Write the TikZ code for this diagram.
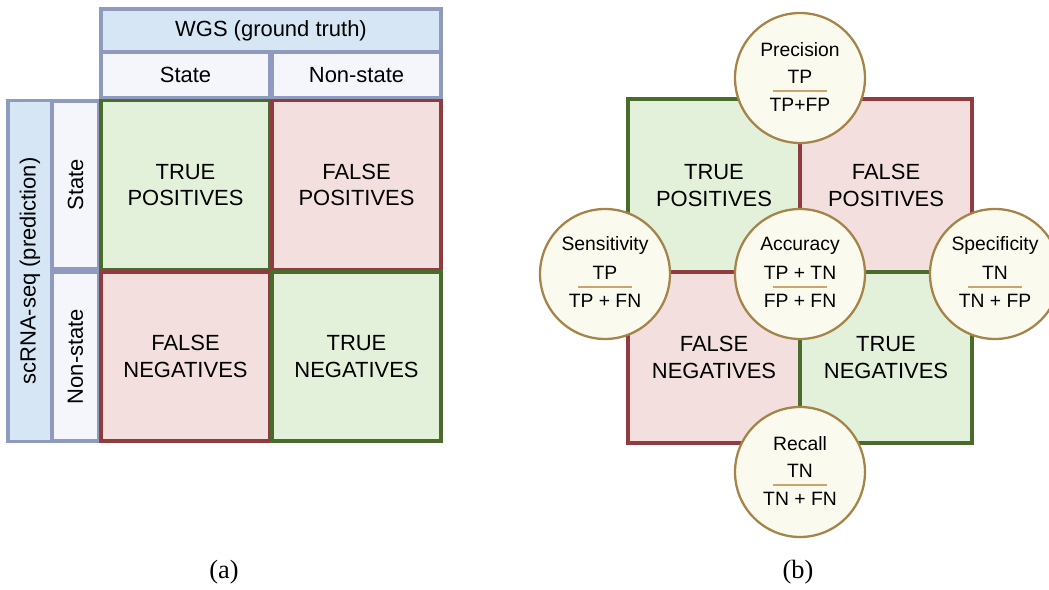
\documentclass[tikz,border=0pt]{standalone}
\usepackage{fontspec}
\setmainfont{Liberation Sans}
\newfontfamily\capfont{Liberation Serif}
\definecolor{hdrfill}{HTML}{D6E6F4}
\definecolor{subfill}{HTML}{F4F6FB}
\definecolor{hdrline}{HTML}{8E9BBE}
\definecolor{goodfill}{HTML}{E3F0DA}
\definecolor{goodline}{HTML}{4B6B2C}
\definecolor{badfill}{HTML}{F2DFDE}
\definecolor{badline}{HTML}{8F3B40}
\definecolor{metfill}{HTML}{FBFAEE}
\definecolor{metline}{HTML}{A5844A}
\definecolor{fracline}{HTML}{CBA66C}

\begin{document}
\begin{tikzpicture}[x=0.02cm, y=-0.02cm,
    hdr/.style = {draw=hdrline, fill=hdrfill, line width=2pt, inner sep=0pt, font=\fontsize{12.5}{15}\selectfont},
    sub/.style = {hdr, fill=subfill},
    good/.style = {draw=goodline, fill=goodfill, line width=2pt, minimum width=3.38cm, minimum height=3.38cm,
                   align=center, font=\fontsize{12.5}{15}\selectfont},
    bad/.style = {good, draw=badline, fill=badfill},
    metric/.style = {circle, draw=metline, fill=metfill, line width=1.3pt, minimum size=2.6cm, inner sep=0pt},
    mtext/.style = {font=\fontsize{11}{13}\selectfont, inner sep=0pt},
    frac/.style = {draw=fracline, line width=0.9pt}]
    \useasboundingbox (0,0) rectangle (1049,590);

    % (a) confusion matrix
    \node[hdr, minimum width=6.8cm, minimum height=0.86cm] (wgs) at (271,30.5) {WGS (ground truth)};
    \node[sub, minimum width=3.38cm, minimum height=0.92cm] (colstate) at (185.5,75) {State};
    \node[sub, minimum width=3.38cm, minimum height=0.92cm] (colnon) at (356.5,75) {Non-state};
    \node[hdr, minimum width=6.82cm, minimum height=0.88cm, rotate=90] (scrna) at (30,271) {scRNA-seq (prediction)};
    \node[sub, minimum width=3.36cm, minimum height=0.92cm, rotate=90] (rowstate) at (75.5,185) {State};
    \node[sub, minimum width=3.38cm, minimum height=0.92cm, rotate=90] (rownon) at (75.5,356.5) {Non-state};

    \node[good] (tp) at (185.5,185) {TRUE\\POSITIVES};
    \node[bad] (fp) at (356.5,185) {FALSE\\POSITIVES};
    \node[bad] (fn) at (185.5,356.5) {FALSE\\NEGATIVES};
    \node[good] (tn) at (356.5,356.5) {TRUE\\NEGATIVES};

    \node[font=\capfont\fontsize{15}{17}\selectfont] (capa) at (224,572) {(a)};

    % (b) metrics
    \node[good, minimum width=3.44cm, minimum height=3.46cm] (btp) at (714,185.5) {TRUE\\POSITIVES};
    \node[bad, minimum width=3.44cm, minimum height=3.46cm] (bfp) at (886,185.5) {FALSE\\POSITIVES};
    \node[bad, minimum width=3.44cm, minimum height=3.42cm] (bfn) at (714,357.5) {FALSE\\NEGATIVES};
    \node[good, minimum width=3.44cm, minimum height=3.42cm] (btn) at (886,357.5) {TRUE\\NEGATIVES};

    \node[metric] (prec) at (800,78) {};
    \node[mtext] at (800,50) {Precision};
    \node[mtext] at (800,77) {TP};
    \draw[frac] (773,91) -- (827,91);
    \node[mtext] at (800,105) {TP+FP};

    \node[metric] (sens) at (605,274) {};
    \node[mtext] at (605,246) {Sensitivity};
    \node[mtext] at (605,273) {TP};
    \draw[frac] (578,287) -- (632,287);
    \node[mtext] at (605,301) {TP + FN};

    \node[metric] (acc) at (800,274) {};
    \node[mtext] at (800,246) {Accuracy};
    \node[mtext] at (800,273) {TP + TN};
    \draw[frac] (773,287) -- (827,287);
    \node[mtext] at (800,301) {FP + FN};

    \node[metric] (spec) at (995,274) {};
    \node[mtext] at (995,246) {Specificity};
    \node[mtext] at (995,273) {TN};
    \draw[frac] (968,287) -- (1022,287);
    \node[mtext] at (995,301) {TN + FP};

    \node[metric] (rec) at (800,472) {};
    \node[mtext] at (800,444) {Recall};
    \node[mtext] at (800,471) {TN};
    \draw[frac] (773,485) -- (827,485);
    \node[mtext] at (800,499) {TN + FN};

    \node[font=\capfont\fontsize{15}{17}\selectfont] (capb) at (798,572) {(b)};
\end{tikzpicture}
\end{document}
